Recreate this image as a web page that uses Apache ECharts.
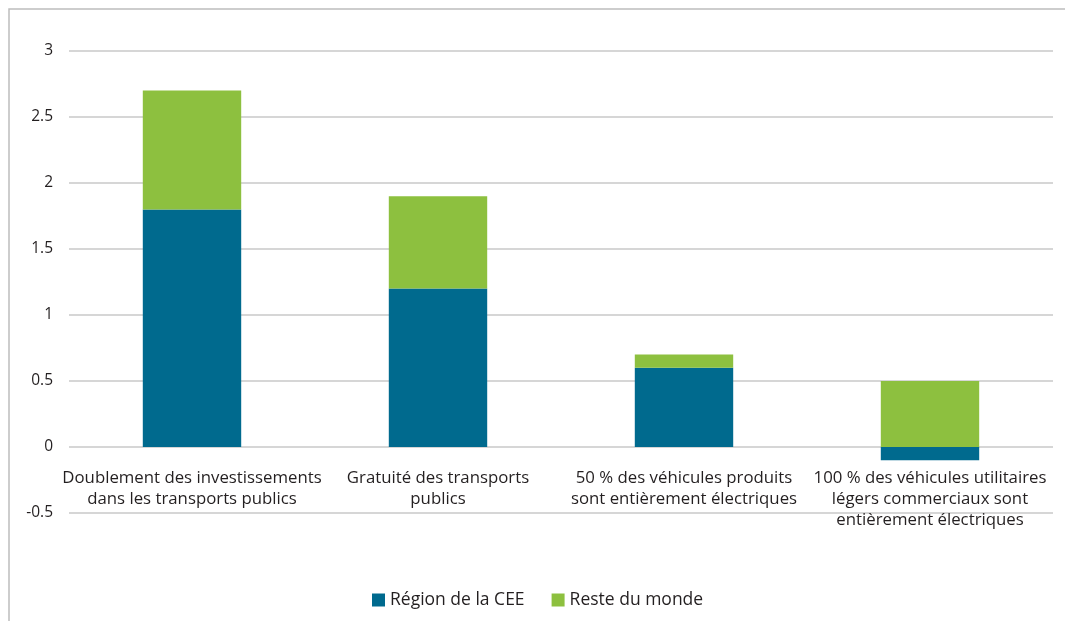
<!DOCTYPE html>
<html>
<head>
<meta charset="utf-8">
<script src="https://cdn.jsdelivr.net/npm/echarts@6/dist/echarts.min.js"></script>
<style>
  html, body { margin: 0; padding: 0; background: #fff; }
  #chart { width: 1065px; height: 621px; }
</style>
</head>
<body>
<div id="chart"></div>
<script>
// catégories (axe X)
const categories = [
  'Doublement des investissements\ndans les transports publics',
  'Gratuité des transports\npublics',
  '50 % des véhicules produits\nsont entièrement électriques',
  '100 % des véhicules utilitaires\nlégers commerciaux sont\nentièrement électriques'
];

// séries
const regionCEE = [1.8, 1.2, 0.6, -0.1];
const resteMonde = [0.9, 0.7, 0.1, 0.5];

const textColor = '#231f20';
const fontFamily = '"Open Sans", "Noto Sans", sans-serif';

const chart = echarts.init(document.getElementById('chart'));

chart.setOption({
  animation: false,
  textStyle: { fontFamily: fontFamily },
  graphic: [
    {
      type: 'polyline',
      shape: { points: [[9, 621], [9, 9], [1065, 9]] },
      style: { stroke: '#bdbdbd', lineWidth: 1.5, fill: null }
    }
  ],
  legend: {
    data: ['Région de la CEE', 'Reste du monde'],
    left: 367,
    top: 586,
    itemWidth: 13,
    itemHeight: 13,
    itemGap: 27,
    icon: 'rect',
    textStyle: { color: textColor, fontSize: 17.5, fontFamily: fontFamily }
  },
  grid: {
    left: 69,
    right: 12,
    top: 51,
    bottom: 108
  },
  xAxis: {
    type: 'category',
    data: categories,
    axisLine: { show: false },
    axisTick: { show: false },
    axisLabel: {
      interval: 0,
      // libellés placés juste sous la ligne du zéro
      margin: -45,
      color: textColor,
      fontSize: 16.8,
      lineHeight: 21,
      fontFamily: fontFamily
    }
  },
  yAxis: {
    type: 'value',
    min: -0.5,
    max: 3,
    interval: 0.5,
    axisLine: { show: false },
    axisTick: { show: false },
    splitLine: { lineStyle: { color: '#c8c8c8', width: 1.5 } },
    axisLabel: {
      margin: 16,
      color: textColor,
      fontSize: 15.5,
      fontFamily: fontFamily
    }
  },
  series: [
    {
      name: 'Région de la CEE',
      type: 'bar',
      stack: 'total',
      barWidth: '40%',
      itemStyle: { color: '#006a8e' },
      data: regionCEE
    },
    {
      name: 'Reste du monde',
      type: 'bar',
      stack: 'total',
      barWidth: '40%',
      itemStyle: { color: '#8dc03f' },
      data: resteMonde
    }
  ]
});
</script>
</body>
</html>
